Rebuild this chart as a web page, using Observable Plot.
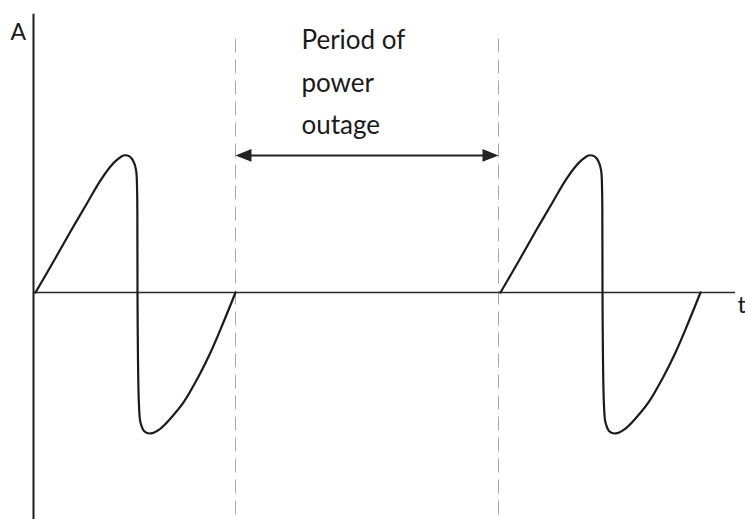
<!DOCTYPE html>
<html>
<head>
<meta charset="utf-8">
<script src="https://cdn.jsdelivr.net/npm/d3@7"></script>
<script src="https://cdn.jsdelivr.net/npm/@observablehq/plot@0.6"></script>
<style>
  html, body { margin: 0; padding: 0; background: #fff; }
  #chart svg { display: block; }
</style>
</head>
<body>
<div id="chart"></div>
<script>
// Time values (arbitrary units) and amplitude values
const wave1Time = [0, 0.9, 1.75, 2.6, 3.25, 3.75, 4.1, 4.4, 4.7, 4.9, 5.03, 5.08, 5.095, 5.1, 5.125, 5.175, 5.25, 5.45, 5.75, 6.25, 6.75, 7.4, 8.1, 8.75, 9.35, 10];
const wave2Time = [23.25, 24.15, 25.0, 25.85, 26.5, 27.0, 27.35, 27.65, 27.95, 28.15, 28.28, 28.33, 28.345, 28.35, 28.375, 28.425, 28.5, 28.7, 29.0, 29.5, 30.0, 30.65, 31.35, 32.0, 32.6, 33.25];
const amplitude = [0, 0.226, 0.445, 0.657, 0.818, 0.92, 0.971, 1.0, 0.993, 0.956, 0.891, 0.745, 0.38, 0, -0.496, -0.825, -0.949, -1.015, -1.029, -0.993, -0.92, -0.803, -0.628, -0.438, -0.234, 0];

const outageStart = 10;
const outageEnd = 23.15;
const outageArrowLevel = 1.0;
const outageLabel = ["Period of", "power", "outage"];
const outageLabelLevel = [1.774, 1.46, 1.16];
const outageLabelTime = 13.3;

const axisLabels = { y: "A", x: "t" };
const tDomain = [-0.1, 35];
const aDomain = [-1.657, 2.131];

const waves = [
  ...wave1Time.map((t, i) => ({ t, a: amplitude[i], wave: "first" })),
  ...wave2Time.map((t, i) => ({ t, a: amplitude[i], wave: "second" }))
];

// filled arrowhead pointing right (rotated for the left one)
const arrowHead = {
  draw(context, size) {
    const r = Math.sqrt(size / Math.PI);
    context.moveTo(r, 0);
    context.lineTo(-r, -0.8 * r);
    context.lineTo(-r, 0.8 * r);
    context.closePath();
  }
};

const ink = "#1b1b1b";

const chart = Plot.plot({
  width: 745,
  height: 519,
  marginLeft: 33,
  marginRight: 10,
  marginTop: 0,
  marginBottom: 0,
  x: { domain: tDomain, axis: null },
  y: { domain: aDomain, axis: null },
  style: { background: "#fff", overflow: "visible" },
  marks: [
    // outage boundaries
    Plot.ruleX([outageStart, outageEnd], {
      y1: 1.85, y2: aDomain[0],
      stroke: "#a8a8a8", strokeWidth: 1, strokeDasharray: "14,7"
    }),
    // axes
    Plot.ruleY([0], { x1: tDomain[0], x2: tDomain[1], stroke: "#2a2a2a", strokeWidth: 1.6 }),
    Plot.ruleX([tDomain[0]], { y1: 2.03, y2: aDomain[0], stroke: ink, strokeWidth: 2 }),
    // waveforms
    Plot.line(waves, { x: "t", y: "a", z: "wave", curve: "catmull-rom", stroke: ink, strokeWidth: 2.2 }),
    // double-headed arrow
    Plot.ruleY([outageArrowLevel], { x1: outageStart + 0.3, x2: outageEnd - 0.3, stroke: "#222", strokeWidth: 2 }),
    Plot.dot([outageStart], { x: d => d, y: outageArrowLevel, dx: 8, r: 8, symbol: arrowHead, rotate: 180, fill: "#222", stroke: "none" }),
    Plot.dot([outageEnd], { x: d => d, y: outageArrowLevel, dx: -8, r: 8, symbol: arrowHead, rotate: 0, fill: "#222", stroke: "none" }),
    // outage label
    Plot.text(outageLabel, {
      x: outageLabelTime, y: (d, i) => outageLabelLevel[i], text: d => d,
      textAnchor: "start", lineAnchor: "bottom",
      fontFamily: "Lato", fontSize: 26, fill: "#1a1a1a"
    }),
    // axis labels
    Plot.text([axisLabels.y], {
      x: tDomain[0], y: 2.03, text: d => d, dx: -23, dy: 26,
      textAnchor: "start", lineAnchor: "bottom",
      fontFamily: "Lato", fontSize: 23, fill: "#1a1a1a"
    }),
    Plot.text([axisLabels.x], {
      x: tDomain[1], y: 0, text: d => d, dx: 2, dy: 21,
      textAnchor: "start", lineAnchor: "bottom",
      fontFamily: "Lato", fontSize: 24, fill: "#1a1a1a"
    })
  ]
});

document.getElementById("chart").appendChild(chart);
</script>
</body>
</html>
